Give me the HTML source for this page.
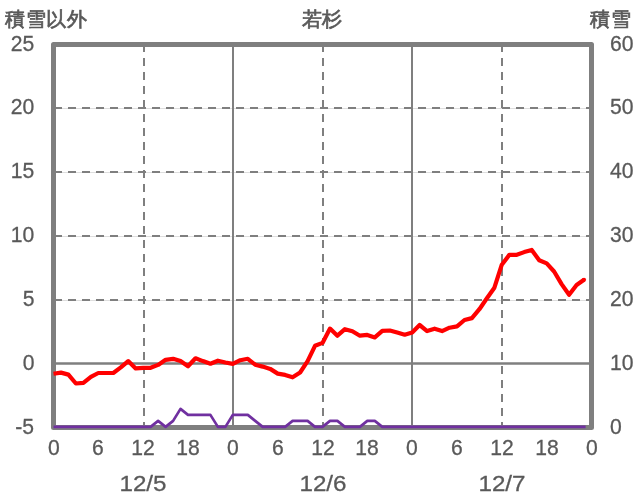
<!DOCTYPE html>
<html><head><meta charset="utf-8"><style>
html,body{margin:0;padding:0;background:#fff;width:636px;height:501px;overflow:hidden;}
body{position:relative;will-change:transform;font-family:"Liberation Sans",sans-serif;color:#595959;}
svg{position:absolute;left:0;top:0;}
.t{position:absolute;font-size:22.6px;-webkit-text-stroke:0.3px #595959;line-height:1;white-space:nowrap;}
.r{transform:translateY(-50%) scaleX(0.935);transform-origin:100% 50%;}
.l{transform:translateY(-50%) scaleX(0.935);transform-origin:0 50%;}
.c{transform:translate(-50%,-50%) scaleX(0.935);}
.d{transform:translate(-50%,-50%) scaleX(1.07);}
.j{position:absolute;font-size:20px;letter-spacing:0.6px;-webkit-text-stroke:0.7px #595959;line-height:1;white-space:nowrap;}
</style></head><body>
<svg width="636" height="501" viewBox="0 0 636 501">
<line x1="56" y1="108.5" x2="589" y2="108.5" stroke="#dedede" stroke-width="1"/>
<line x1="56" y1="172.5" x2="589" y2="172.5" stroke="#dedede" stroke-width="1"/>
<line x1="56" y1="236.5" x2="589" y2="236.5" stroke="#dedede" stroke-width="1"/>
<line x1="56" y1="300.5" x2="589" y2="300.5" stroke="#dedede" stroke-width="1"/>
<line x1="54" y1="108" x2="589" y2="108" stroke="#7f7f7f" stroke-width="2" stroke-dasharray="8 6"/>
<line x1="54" y1="172" x2="589" y2="172" stroke="#7f7f7f" stroke-width="2" stroke-dasharray="8 6"/>
<line x1="54" y1="236" x2="589" y2="236" stroke="#7f7f7f" stroke-width="2" stroke-dasharray="8 6"/>
<line x1="54" y1="300" x2="589" y2="300" stroke="#7f7f7f" stroke-width="2" stroke-dasharray="8 6"/>
<line x1="144" y1="44" x2="144" y2="427" stroke="#7f7f7f" stroke-width="2" stroke-dasharray="8 6"/>
<line x1="323" y1="44" x2="323" y2="427" stroke="#7f7f7f" stroke-width="2" stroke-dasharray="8 6"/>
<line x1="502" y1="44" x2="502" y2="427" stroke="#7f7f7f" stroke-width="2" stroke-dasharray="8 6"/>
<line x1="233" y1="44" x2="233" y2="427" stroke="#7f7f7f" stroke-width="2"/>
<line x1="412" y1="44" x2="412" y2="427" stroke="#7f7f7f" stroke-width="2"/>
<line x1="54" y1="363.5" x2="591" y2="363.5" stroke="#7f7f7f" stroke-width="2.5"/>
<rect x="53.5" y="44.5" width="538" height="383" fill="none" stroke="#7f7f7f" stroke-width="5" stroke-linejoin="round"/>
<polyline points="53.5,373.8 61.0,372.6 68.4,374.6 75.9,383.5 83.4,382.8 90.9,376.8 98.3,373.0 105.8,373.0 113.3,373.0 120.8,367.4 128.2,361.1 135.7,368.4 143.2,367.8 150.6,367.8 158.1,364.9 165.6,359.8 173.1,358.8 180.5,361.1 188.0,366.3 195.5,358.3 202.9,361.1 210.4,363.7 217.9,360.7 225.4,362.5 232.8,363.9 240.3,360.2 247.8,358.8 255.2,364.7 262.7,366.6 270.2,368.9 277.7,373.6 285.1,374.9 292.6,377.3 300.1,372.5 307.6,361.1 315.0,345.8 322.5,342.9 330.0,328.6 337.4,335.7 344.9,329.2 352.4,331.2 359.9,335.7 367.3,334.9 374.8,337.4 382.3,330.9 389.8,330.5 397.2,332.5 404.7,334.7 412.2,332.4 419.6,325.0 427.1,331.1 434.6,328.7 442.1,331.1 449.5,327.7 457.0,326.4 464.5,320.0 471.9,318.1 479.4,309.2 486.9,298.3 494.4,287.7 501.8,264.7 509.3,254.9 516.8,254.8 524.2,252.1 531.7,249.9 539.2,260.3 546.7,263.4 554.1,271.5 561.6,284.1 569.1,294.7 576.6,285.0 584.0,279.8" fill="none" stroke="#ff0000" stroke-width="4.2" stroke-linejoin="round" stroke-linecap="butt"/>
<circle cx="584.0" cy="279.8" r="2.1" fill="#ff0000"/>
<polyline points="53.5,426.9 61.0,426.9 68.4,426.9 75.9,426.9 83.4,426.9 90.9,426.9 98.3,426.9 105.8,426.9 113.3,426.9 120.8,426.9 128.2,426.9 135.7,426.9 143.2,426.9 150.6,426.9 158.1,420.9 165.6,426.9 173.1,420.9 180.5,408.9 188.0,414.9 195.5,414.9 202.9,414.9 210.4,414.9 217.9,426.9 225.4,426.9 232.8,414.9 240.3,414.9 247.8,414.9 255.2,420.9 262.7,426.9 270.2,426.9 277.7,426.9 285.1,426.9 292.6,420.9 300.1,420.9 307.6,420.9 315.0,426.9 322.5,426.9 330.0,420.9 337.4,420.9 344.9,426.9 352.4,426.9 359.9,426.9 367.3,420.9 374.8,420.9 382.3,426.9 389.8,426.9 397.2,426.9 404.7,426.9 412.2,426.9 419.6,426.9 427.1,426.9 434.6,426.9 442.1,426.9 449.5,426.9 457.0,426.9 464.5,426.9 471.9,426.9 479.4,426.9 486.9,426.9 494.4,426.9 501.8,426.9 509.3,426.9 516.8,426.9 524.2,426.9 531.7,426.9 539.2,426.9 546.7,426.9 554.1,426.9 561.6,426.9 569.1,426.9 576.6,426.9 584.0,426.9 585.6,426.9" fill="none" stroke="#7030a0" stroke-width="2.7" stroke-linejoin="round" stroke-linecap="butt"/>
</svg>
<div class="t r" style="right:601.5px;top:43.9px">25</div>
<div class="t l" style="left:609.9px;top:43.9px">60</div>
<div class="t r" style="right:601.5px;top:107.4px">20</div>
<div class="t l" style="left:609.9px;top:107.4px">50</div>
<div class="t r" style="right:601.5px;top:171.4px">15</div>
<div class="t l" style="left:609.9px;top:171.4px">40</div>
<div class="t r" style="right:601.5px;top:235.4px">10</div>
<div class="t l" style="left:609.9px;top:235.4px">30</div>
<div class="t r" style="right:601.5px;top:299.4px">5</div>
<div class="t l" style="left:609.9px;top:299.4px">20</div>
<div class="t r" style="right:601.5px;top:363.4px">0</div>
<div class="t l" style="left:609.9px;top:363.4px">10</div>
<div class="t r" style="right:601.5px;top:426.9px">-5</div>
<div class="t l" style="left:609.9px;top:426.9px">0</div>
<div class="t c" style="left:53.5px;top:448px">0</div>
<div class="t c" style="left:98.3px;top:448px">6</div>
<div class="t c" style="left:143.2px;top:448px">12</div>
<div class="t c" style="left:188.0px;top:448px">18</div>
<div class="t c" style="left:232.8px;top:448px">0</div>
<div class="t c" style="left:277.7px;top:448px">6</div>
<div class="t c" style="left:322.5px;top:448px">12</div>
<div class="t c" style="left:367.3px;top:448px">18</div>
<div class="t c" style="left:412.2px;top:448px">0</div>
<div class="t c" style="left:457.0px;top:448px">6</div>
<div class="t c" style="left:501.8px;top:448px">12</div>
<div class="t c" style="left:546.7px;top:448px">18</div>
<div class="t c" style="left:591.5px;top:448px">0</div>
<div class="t d" style="left:143.2px;top:484px">12/5</div>
<div class="t d" style="left:322.5px;top:484px">12/6</div>
<div class="t d" style="left:501.8px;top:484px">12/7</div>
<div class="j" style="left:5px;top:9.3px">積雪以外</div>
<div class="j" style="left:301.5px;top:8.6px">若杉</div>
<div class="j" style="left:590px;top:9.3px">積雪</div>
</body></html>
